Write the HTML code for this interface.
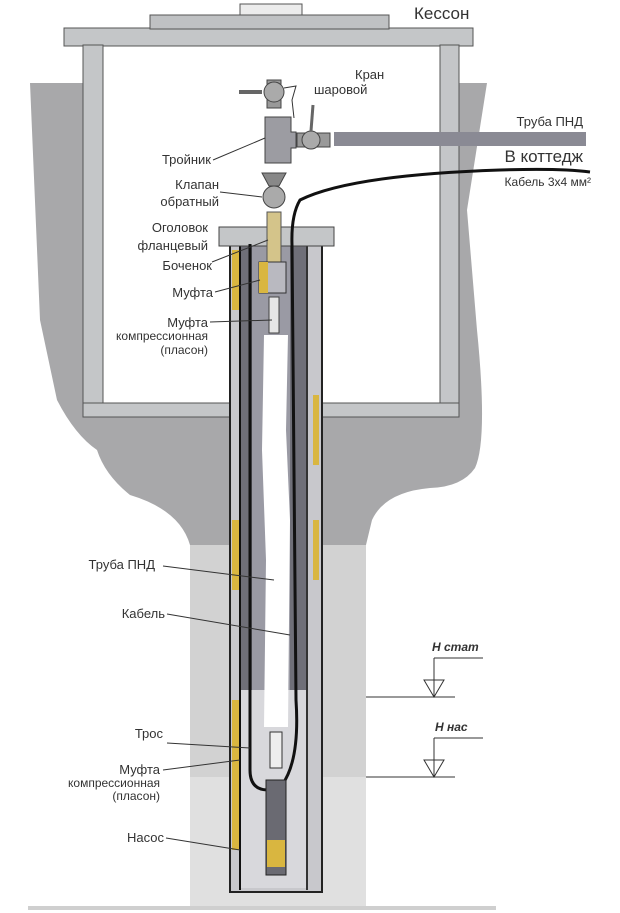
<!DOCTYPE html>
<html><head><meta charset="utf-8"><style>
html,body{margin:0;padding:0;background:#fff}
svg{display:block}
text{font-family:"Liberation Sans",sans-serif;fill:#333}
</style></head><body>
<svg width="620" height="913" viewBox="0 0 620 913">
<!-- ground -->
<path d="M30 83 L487 83 L467 210 L477 330 Q488 440 475 468 Q462 487 430 488 Q385 492 372 520 L366 545 L190 545 Q180 510 130 495 Q105 475 97 450 Q75 435 57 400 L40 320 Z" fill="#a8a8aa"/>
<rect x="190" y="545" width="176" height="363" fill="#d2d2d2"/>
<rect x="190" y="777" width="176" height="131" fill="#e0e0e0"/>
<rect x="28" y="906" width="468" height="4" fill="#cfcfcf"/>
<!-- caisson interior -->
<rect x="100" y="45" width="345" height="362" fill="#fff"/>
<!-- caisson -->
<rect x="240" y="4" width="62" height="12" fill="#ececec" stroke="#555" stroke-width="1"/>
<rect x="64" y="28" width="409" height="18" fill="#c4c6c8" stroke="#555"/>
<rect x="150" y="15" width="239" height="14" fill="#bfc1c3" stroke="#555"/>
<rect x="83" y="45" width="20" height="370" fill="#c4c6c8" stroke="#555"/>
<rect x="440" y="45" width="19" height="370" fill="#c4c6c8" stroke="#555"/>
<rect x="83" y="403" width="376" height="14" fill="#c4c6c8" stroke="#555"/>
<text x="414" y="19" font-size="17">Кессон</text>
<!-- casing -->
<rect x="230" y="238" width="92" height="654" fill="#c8c8cc" stroke="#222" stroke-width="2"/>
<rect x="232" y="250" width="7" height="60" fill="#d9b640"/>
<rect x="232" y="520" width="7" height="70" fill="#d9b640"/>
<rect x="232" y="700" width="7" height="150" fill="#d9b640"/>
<rect x="313" y="395" width="6" height="70" fill="#d9b640"/>
<rect x="313" y="520" width="6" height="60" fill="#d9b640"/>
<rect x="240" y="244" width="68" height="446" fill="#6f6f78"/>
<rect x="240" y="690" width="68" height="198" fill="#d8d8dc"/>
<line x1="240" y1="244" x2="240" y2="890" stroke="#111" stroke-width="2"/>
<line x1="307" y1="244" x2="307" y2="890" stroke="#333" stroke-width="2"/>
<rect x="252" y="244" width="38" height="446" fill="#9a9aa4"/>
<path d="M264 335 L288 335 L286 430 L290 520 L288 727 L264 727 L266 560 L262 450 Z" fill="#fff"/>
<!-- flange -->
<rect x="219" y="227" width="115" height="19" fill="#c4c6c8" stroke="#444"/>
<!-- rope -->
<path d="M250 244 L250 770 Q250 790 268 790" stroke="#111" stroke-width="3" fill="none"/>
<!-- cable -->
<path d="M590 172 Q560 168 500 170 Q350 175 300 200 Q291 215 292 245 L296 700 Q300 760 282 785" stroke="#111" stroke-width="3" fill="none"/>
<!-- stub pipe -->
<rect x="267" y="212" width="14" height="52" fill="#d4c48a" stroke="#555"/>
<rect x="259" y="262" width="27" height="31" fill="#b9b9c0" stroke="#333"/>
<rect x="259" y="262" width="9" height="31" fill="#d9b640"/>
<rect x="269" y="297" width="10" height="36" fill="#e6e6e6" stroke="#444"/>
<!-- check valve -->
<path d="M262 173 L286 173 L279 186 L269 186 Z" fill="#888" stroke="#444"/>
<circle cx="274" cy="197" r="11" fill="#aaa" stroke="#444"/>
<!-- tee -->
<path d="M265 117 L291 117 L291 132 L296 132 L296 148 L291 148 L291 163 L265 163 Z" fill="#9c9ca2" stroke="#444"/>
<!-- valve 1 -->
<line x1="239" y1="92" x2="262" y2="92" stroke="#666" stroke-width="4"/>
<rect x="267" y="80" width="14" height="28" fill="#999" stroke="#444"/>
<circle cx="274" cy="92" r="10" fill="#aaa" stroke="#444"/>
<!-- valve 2 -->
<rect x="297" y="133" width="33" height="14" fill="#999" stroke="#444"/>
<circle cx="311" cy="140" r="9" fill="#aaa" stroke="#444"/>
<line x1="311" y1="131" x2="313" y2="105" stroke="#666" stroke-width="3"/>
<!-- pipe -->
<rect x="334" y="132" width="252" height="14" fill="#8a8a94"/>
<!-- pump -->
<rect x="270" y="732" width="12" height="36" fill="#eee" stroke="#333"/>
<rect x="266" y="780" width="20" height="95" fill="#6a6a72" stroke="#222"/>
<rect x="267" y="840" width="18" height="27" fill="#d9b640"/>
<!-- labels -->
<g font-size="13" text-anchor="end">
<text x="355" y="79" text-anchor="start">Кран</text>
<text x="314" y="94" text-anchor="start">шаровой</text>
<text x="211" y="164">Тройник</text>
<text x="219" y="189">Клапан</text>
<text x="219" y="206">обратный</text>
<text x="208" y="232">Оголовок</text>
<text x="208" y="250">фланцевый</text>
<text x="212" y="270">Боченок</text>
<text x="213" y="297">Муфта</text>
<text x="208" y="327">Муфта</text>
<text x="208" y="340" font-size="12">компрессионная</text>
<text x="208" y="354" font-size="12">(пласон)</text>
<text x="583" y="126">Труба ПНД</text>
<text x="583" y="162" font-size="17">В коттедж</text>
<text x="591" y="186" font-size="12">Кабель 3х4 мм²</text>
<text x="155" y="569">Труба ПНД</text>
<text x="165" y="618">Кабель</text>
<text x="163" y="738">Трос</text>
<text x="160" y="774">Муфта</text>
<text x="160" y="787" font-size="12">компрессионная</text>
<text x="160" y="800" font-size="12">(пласон)</text>
<text x="164" y="842">Насос</text>
</g>
<g stroke="#333" stroke-width="1" fill="none">
<path d="M284 88 L296 86 L292 100 L294 118"/>
<line x1="213" y1="160" x2="265" y2="138"/>
<line x1="220" y1="192" x2="262" y2="197"/>
<line x1="212" y1="262" x2="268" y2="240"/>
<line x1="215" y1="292" x2="260" y2="280"/>
<line x1="210" y1="322" x2="272" y2="320"/>
<line x1="163" y1="566" x2="274" y2="580"/>
<line x1="167" y1="614" x2="290" y2="635"/>
<line x1="167" y1="743" x2="250" y2="748"/>
<line x1="163" y1="770" x2="240" y2="760"/>
<line x1="166" y1="838" x2="240" y2="850"/>
<line x1="434" y1="658" x2="483" y2="658"/>
<line x1="434" y1="658" x2="434" y2="697"/>
<line x1="366" y1="697" x2="455" y2="697"/>
<path d="M424 680 L444 680 L434 697 Z"/>
<line x1="434" y1="738" x2="483" y2="738"/>
<line x1="434" y1="738" x2="434" y2="777"/>
<line x1="366" y1="777" x2="455" y2="777"/>
<path d="M424 760 L444 760 L434 777 Z"/>
</g>
<text x="432" y="651" font-size="12" font-style="italic" font-weight="bold">Н стат</text>
<text x="435" y="731" font-size="12" font-style="italic" font-weight="bold">Н нас</text>
</svg>
</body></html>
